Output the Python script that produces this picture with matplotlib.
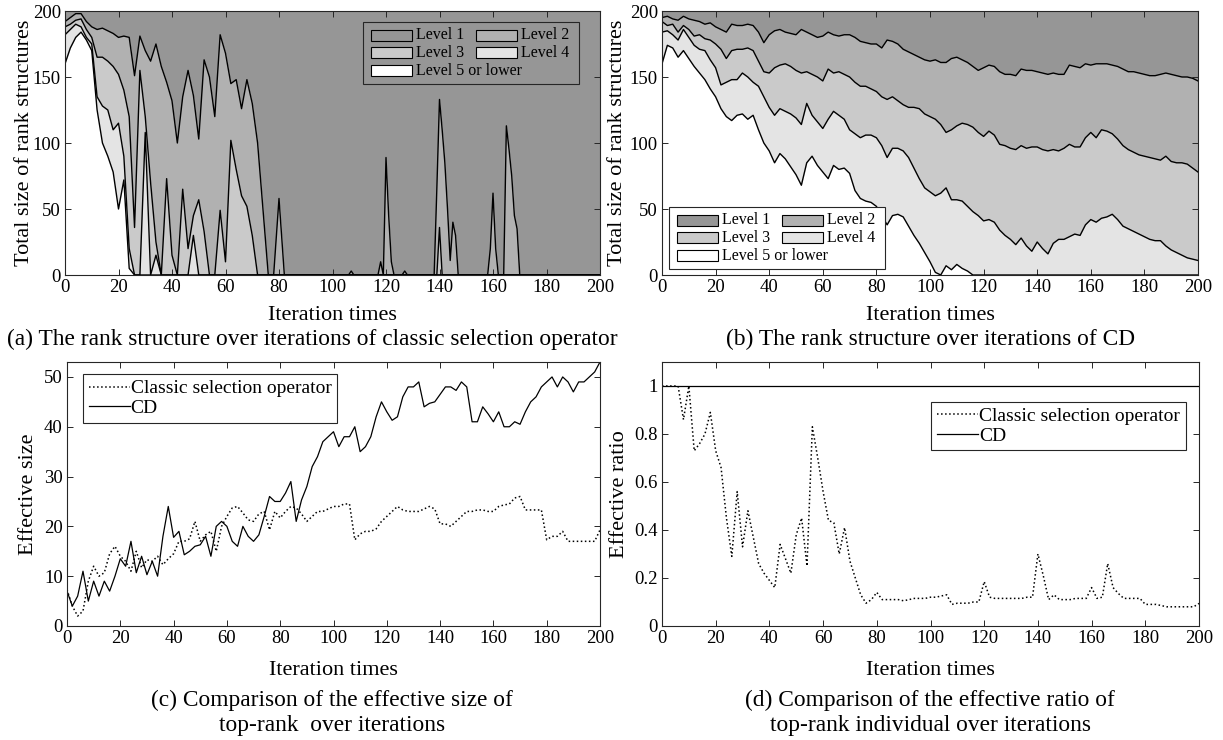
import numpy as np
import matplotlib
matplotlib.use('Agg')
import matplotlib.pyplot as plt
from matplotlib.patches import Rectangle

plt.rcParams['font.family'] = ['Liberation Serif', 'DejaVu Serif']

# ---------------- data ----------------
level_names = ['Level 1', 'Level 2', 'Level 3', 'Level 4', 'Level 5 or lower']
level_colors = ['#969696', '#b1b1b1', '#cacaca', '#e4e4e4', '#ffffff']
pop_size = 200

# (a) classic selection operator: cumulative sizes (level 5 .. level k)
iters_a = list(range(0, 86, 2)) + [100, 106, 107, 108,
                                    117, 118, 119, 120, 121, 122, 123,
                                    126, 127, 128,
                                    138, 139, 140, 141, 142, 143, 144, 145, 146, 147,
                                    158, 159, 160, 161, 162,
                                    164, 165, 166, 167, 168, 169, 170, 171, 200]
cum2_a = [192, 195, 198, 198, 192, 188, 186, 187, 185, 183,
          180, 181, 180, 151, 181, 170, 162, 175, 158, 146,
          132, 100, 135, 155, 136, 103, 163, 150, 120, 182,
          168, 145, 148, 126, 148, 130, 100, 50, 0, 0,
          58, 0, 0,
          0, 0, 3, 0,
          0, 10, 0, 89, 45, 10, 0,
          0, 3, 0,
          0, 65, 133, 110, 85, 50, 11, 40, 30, 0,
          0, 20, 62, 20, 0,
          0, 113, 95, 75, 45, 35, 0, 0,
          0]
cum3_a = [188, 190, 193, 194, 186, 180, 165, 165, 162, 158,
          152, 140, 120, 36, 155, 120, 70, 25, 0, 73,
          15, 0, 65, 20, 45, 57, 33, 0, 0, 49,
          10, 102, 80, 60, 52, 30, 0, 0, 0, 0,
          0, 0, 0,
          0, 0, 0, 0,
          0, 0, 0, 0, 0, 0, 0,
          0, 0, 0,
          0, 0, 36, 0, 0, 0, 0, 0, 0, 0,
          0, 0, 0, 0, 0,
          0, 0, 0, 0, 0, 0, 0, 0,
          0]
cum4_a = [182, 186, 190, 188, 180, 175, 135, 128, 125, 110,
          115, 90, 20, 0, 0, 108, 0, 15, 0, 0,
          0, 0, 0, 0, 30, 0, 0, 0, 0, 0,
          0, 0, 0, 0, 0, 0, 0, 0, 0, 0,
          0, 0, 0,
          0, 0, 0, 0,
          0, 0, 0, 0, 0, 0, 0,
          0, 0, 0,
          0, 0, 0, 0, 0, 0, 0, 0, 0, 0,
          0, 0, 0, 0, 0,
          0, 0, 0, 0, 0, 0, 0, 0,
          0]
cum5_a = [160, 172, 180, 184, 178, 170, 125, 100, 90, 78,
          50, 72, 5, 0, 0, 0, 0, 0, 0, 0,
          0, 0, 0, 0, 0, 0, 0, 0, 0, 0,
          0, 0, 0, 0, 0, 0, 0, 0, 0, 0,
          0, 0, 0,
          0, 0, 0, 0,
          0, 0, 0, 0, 0, 0, 0,
          0, 0, 0,
          0, 0, 0, 0, 0, 0, 0, 0, 0, 0,
          0, 0, 0, 0, 0,
          0, 0, 0, 0, 0, 0, 0, 0,
          0]

# (b) CD, every 2 iterations
iters = np.arange(0, 201, 2)
cum2_b = [195, 196, 194, 193, 196, 194, 193, 192, 190, 191,
          188, 186, 184, 190, 189, 189, 190, 189, 184, 176,
          182, 185, 186, 184, 183, 182, 186, 184, 182, 180,
          181, 184, 182, 181, 182, 182, 180, 177, 176, 175,
          175, 172, 178, 177, 175, 171, 169, 167, 165, 163,
          162, 163, 161, 161, 164, 165, 163, 161, 158, 155,
          157, 159, 158, 154, 152, 152, 151, 156, 155, 155,
          154, 153, 152, 153, 152, 152, 159, 158, 157, 160,
          159, 160, 160, 160, 159, 158, 156, 154, 154, 153,
          152, 151, 151, 152, 153, 152, 151, 150, 150, 149,
          147]
cum3_b = [192, 189, 190, 184, 189, 186, 181, 182, 179, 178,
          175, 171, 164, 170, 171, 171, 172, 170, 162, 154,
          153, 157, 159, 160, 158, 155, 153, 154, 152, 150,
          147, 156, 153, 154, 152, 150, 146, 143, 143, 141,
          139, 135, 133, 135, 132, 129, 127, 127, 126, 122,
          120, 118, 114, 108, 110, 113, 115, 114, 112, 108,
          105, 109, 106, 99, 98, 96, 95, 98, 96, 97,
          97, 95, 94, 95, 94, 96, 99, 97, 97, 104,
          108, 104, 110, 109, 107, 103, 98, 95, 93, 91,
          90, 89, 88, 87, 90, 86, 85, 85, 84, 81,
          78]
cum4_b = [184, 185, 182, 178, 186, 180, 174, 171, 170, 163,
          157, 144, 146, 148, 148, 153, 150, 146, 143, 135,
          127, 121, 126, 124, 122, 119, 114, 130, 121, 116,
          111, 118, 124, 121, 118, 110, 107, 104, 106, 106,
          104, 98, 89, 96, 96, 94, 89, 81, 73, 66,
          63, 60, 62, 66, 57, 57, 56, 52, 48, 45,
          41, 42, 40, 34, 30, 27, 23, 28, 22, 18,
          25, 20, 16, 24, 27, 27, 29, 31, 30, 38,
          42, 40, 43, 44, 46, 42, 37, 35, 33, 31,
          29, 27, 26, 26, 22, 19, 17, 15, 13, 12,
          11]
cum5_b = [160, 174, 172, 165, 170, 164, 158, 153, 148, 141,
          135, 126, 120, 117, 121, 122, 118, 121, 110, 100,
          94, 85, 92, 88, 82, 76, 68, 85, 90, 83,
          78, 73, 83, 80, 81, 77, 64, 58, 56, 55,
          52, 45, 38, 45, 46, 44, 37, 30, 24, 17,
          10, 2, 0, 7, 4, 8, 5, 3, 0, 0,
          0, 0, 0, 0, 0, 0, 0, 0, 0, 0,
          0, 0, 0, 0, 0, 0, 0, 0, 0, 0,
          0, 0, 0, 0, 0, 0, 0, 0, 0, 0,
          0, 0, 0, 0, 0, 0, 0, 0, 0, 0,
          0]

# (c) effective size of top-rank
size_classic = [7.3, 4, 2, 3, 9, 12, 10, 10.7, 14.5, 16,
                14, 13, 11, 15, 11.7, 13.3, 13, 14, 12.3, 13.5,
                14.5, 17, 17, 17.5, 21, 17, 18.3, 19, 15, 20,
                22, 23.7, 24, 22.7, 21.3, 21, 22.5, 23, 19.3, 23,
                21.7, 23, 24, 23.7, 22.5, 21, 22, 23, 23, 23.5,
                24, 24, 24.5, 24.5, 17.3, 18.5, 19, 19, 19.5, 21,
                22, 23, 24, 23.3, 23, 23, 23, 23.5, 24, 23.5,
                20.5, 20.5, 20, 21, 22, 23, 23, 23.3, 23.3, 23,
                23, 24, 24.3, 24.5, 25.7, 26, 23.3, 23.3, 23.3, 23.3,
                17.3, 18, 18, 19, 17, 17, 17, 17, 17, 17,
                19.3]
size_cd = [7, 4, 6, 11, 5, 9, 6, 9, 7, 10,
           13.5, 12, 17, 10.7, 14, 10.3, 13, 10, 18, 24,
           17.8, 19, 14.3, 15, 16, 16.3, 18, 14, 20, 21,
           20, 17, 16, 20, 18, 17, 18.3, 22, 26, 25,
           25, 26.7, 29, 21, 25.3, 28, 32, 34, 37, 38,
           39, 36, 38, 38, 40, 35, 36, 38, 42, 45,
           43, 41.3, 42, 46, 48, 48, 49, 44, 44.7, 45,
           46.5, 48, 48, 47.3, 49, 48, 41, 41, 44, 42.6,
           41, 43, 40, 40, 41, 40.5, 43, 45, 46, 48,
           49, 50, 48, 50, 49, 47, 49, 49, 50, 51,
           53]

# (d) effective ratio of top-rank individuals
ratio_classic = [1, 1, 1, 1, 0.86, 1, 0.73, 0.76, 0.80, 0.89,
                 0.73, 0.66, 0.45, 0.29, 0.56, 0.33, 0.48, 0.37, 0.26, 0.22,
                 0.19, 0.16, 0.34, 0.28, 0.22, 0.38, 0.45, 0.25, 0.83, 0.70,
                 0.56, 0.44, 0.43, 0.30, 0.41, 0.27, 0.20, 0.13, 0.095, 0.11,
                 0.14, 0.11, 0.11, 0.11, 0.11, 0.105, 0.11, 0.115, 0.115, 0.115,
                 0.12, 0.12, 0.125, 0.13, 0.09, 0.095, 0.095, 0.095, 0.10, 0.10,
                 0.185, 0.12, 0.115, 0.115, 0.115, 0.115, 0.115, 0.115, 0.12, 0.12,
                 0.30, 0.21, 0.11, 0.13, 0.11, 0.11, 0.11, 0.115, 0.115, 0.115,
                 0.16, 0.115, 0.12, 0.26, 0.16, 0.135, 0.115, 0.115, 0.115, 0.115,
                 0.09, 0.09, 0.09, 0.085, 0.08, 0.08, 0.08, 0.08, 0.08, 0.08,
                 0.094]
ratio_cd = [1.0] * len(iters)

captions = ['(a) The rank structure over iterations of classic selection operator',
            '(b) The rank structure over iterations of CD',
            '(c) Comparison of the effective size of\ntop-rank  over iterations',
            '(d) Comparison of the effective ratio of\ntop-rank individual over iterations']

# ---------------- drawing ----------------
W, H = 1223, 740
fig = plt.figure(figsize=(W / 100, H / 100), dpi=100)


def box(l, r, t, b):
    return [l / W, 1 - b / H, (r - l) / W, (b - t) / H]


ax_a = fig.add_axes(box(65, 600, 11, 275))
ax_b = fig.add_axes(box(662, 1198, 11, 275))
ax_c = fig.add_axes(box(67, 600, 362, 626))
ax_d = fig.add_axes(box(662, 1199, 362, 626))

ink = '#262626'
tick_fs = 13.5
label_fs = 16
cap_fs = 16.8


def style(ax):
    ax.tick_params(direction='in', top=True, right=True, length=4, width=0.7,
                   color=ink, labelcolor='black', labelsize=tick_fs, pad=3)
    for s in ax.spines.values():
        s.set_color(ink)
        s.set_linewidth(0.8)
    ax.set_xlim(0, 200)
    ax.set_xticks(range(0, 201, 20))


def rank_panel(ax, x, c2, c3, c4, c5):
    x = np.asarray(x)
    top = np.full(len(x), pop_size)
    bounds = [np.zeros(len(x)), np.asarray(c5), np.asarray(c4),
              np.asarray(c3), np.asarray(c2), top]
    # level 5 at bottom ... level 1 on top
    for i in range(5):
        ax.fill_between(x, bounds[i], bounds[i + 1], color=level_colors[4 - i], lw=0)
    for b in bounds[1:5]:
        ax.plot(x, b, color='black', lw=1.0)
    ax.set_ylim(0, pop_size)
    ax.set_yticks([0, 50, 100, 150, 200])
    style(ax)
    ax.set_xlabel('Iteration times', fontsize=label_fs)
    ax.set_ylabel('Total size of rank structures', fontsize=label_fs)


def level_key(ax, left, top, face):
    # MATLAB-like 2-column key, last entry spans both columns
    tr = fig.transFigure
    fw, fh = 216, 62
    ax.add_patch(Rectangle((left / W, 1 - (top + fh) / H), fw / W, fh / H,
                           transform=tr, fc=face, ec=ink, lw=0.8,
                           clip_on=False, zorder=5))
    slots = [(0, 0), (1, 0), (0, 1), (1, 1), (0, 2)]
    for i, (col, row) in enumerate(slots):
        x0 = left + 8 + col * 105
        yc = top + 13 + row * 17.8
        ax.add_patch(Rectangle((x0 / W, 1 - (yc + 5.5) / H), 41 / W, 11 / H,
                               transform=tr, fc=level_colors[i], ec='black',
                               lw=0.8, clip_on=False, zorder=6))
        ax.text((x0 + 45) / W, 1 - yc / H, level_names[i], transform=tr,
                ha='left', va='center', fontsize=11.5, zorder=7)


rank_panel(ax_a, iters_a, cum2_a, cum3_a, cum4_a, cum5_a)
level_key(ax_a, 363, 22, 'none')
rank_panel(ax_b, iters, cum2_b, cum3_b, cum4_b, cum5_b)
level_key(ax_b, 669, 207, 'white')

ax_c.plot(iters, size_classic, color='black', ls=':', lw=1.1, label='Classic selection operator')
ax_c.plot(iters, size_cd, color='black', lw=0.9, label='CD')
ax_c.set_ylim(0, 53)
ax_c.set_yticks(range(0, 51, 10))
style(ax_c)
ax_c.set_xlabel('Iteration times', fontsize=label_fs)
ax_c.set_ylabel('Effective size', fontsize=label_fs)

ax_d.plot(iters, ratio_classic, color='black', ls=':', lw=1.1, label='Classic selection operator')
ax_d.plot(iters, ratio_cd, color='black', lw=0.9, label='CD')
ax_d.set_ylim(0, 1.1)
ax_d.set_yticks([0, 0.2, 0.4, 0.6, 0.8, 1])
ax_d.set_yticklabels(['0', '0.2', '0.4', '0.6', '0.8', '1'])
style(ax_d)
ax_d.set_xlabel('Iteration times', fontsize=label_fs)
ax_d.set_ylabel('Effective ratio', fontsize=label_fs)

for ax, anchor, loc in [(ax_c, (0.03, 0.955), 'upper left'),
                        (ax_d, (0.975, 0.85), 'upper right')]:
    leg = ax.legend(loc=loc, bbox_to_anchor=anchor, fontsize=14, handlelength=2.1,
                    handletextpad=0.05, labelspacing=0.1, borderpad=0.3,
                    borderaxespad=0, fancybox=False, framealpha=1, edgecolor=ink)
    leg.get_frame().set_linewidth(0.8)

# label placement
ax_a.xaxis.set_label_coords(0.5, -0.118)
ax_b.xaxis.set_label_coords(0.5, -0.118)
ax_c.xaxis.set_label_coords(0.5, -0.132)
ax_d.xaxis.set_label_coords(0.5, -0.132)
ax_a.yaxis.set_label_coords(-0.058, 0.5)
ax_b.yaxis.set_label_coords(-0.066, 0.5)
ax_c.yaxis.set_label_coords(-0.055, 0.5)
ax_d.yaxis.set_label_coords(-0.062, 0.5)

fig.text(312 / W, 1 - 339 / H, captions[0], ha='center', va='center', fontsize=cap_fs)
fig.text(931 / W, 1 - 339 / H, captions[1], ha='center', va='center', fontsize=cap_fs)
fig.text(332 / W, 1 - 713 / H, captions[2], ha='center', va='center', fontsize=cap_fs,
         linespacing=1.2, multialignment='center')
fig.text(930 / W, 1 - 713 / H, captions[3], ha='center', va='center', fontsize=cap_fs,
         linespacing=1.2, multialignment='center')

fig.savefig('out.png', dpi=100)
